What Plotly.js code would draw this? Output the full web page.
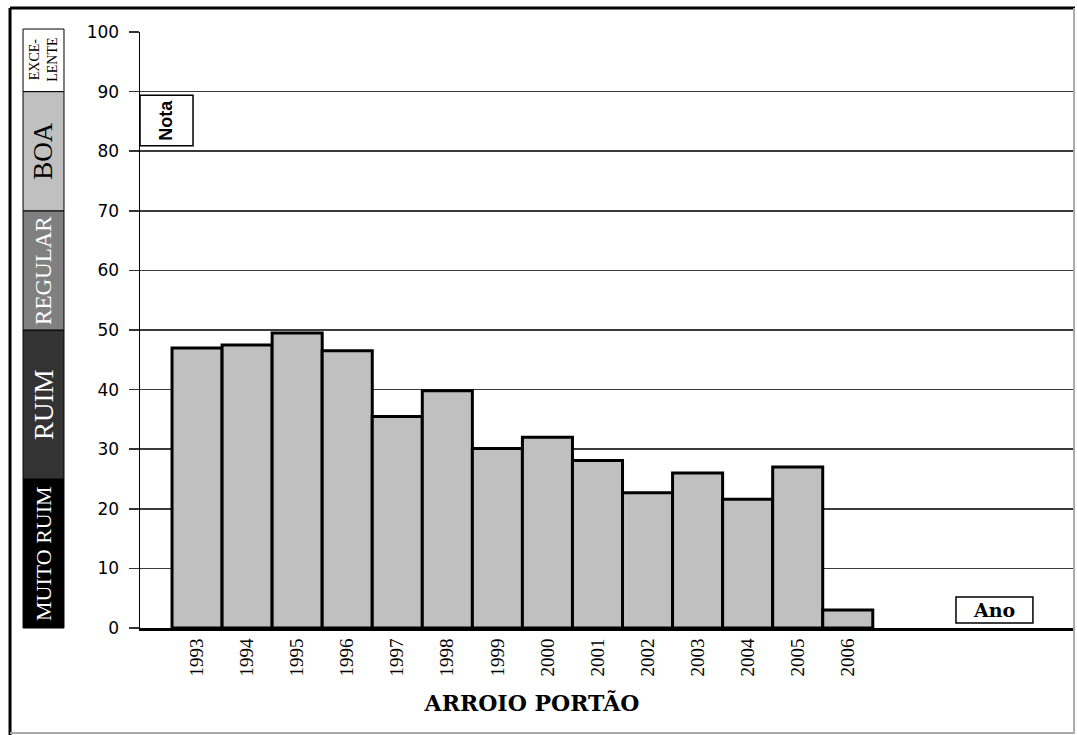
<!DOCTYPE html>
<html>
<head>
<meta charset="utf-8">
<script src="https://cdn.plot.ly/plotly-3.0.1.min.js"></script>
<style>
  html, body { margin: 0; padding: 0; background: #ffffff; }
  #chart { width: 1077px; height: 735px; }
</style>
</head>
<body>
<div id="chart"></div>
<script>
// Water quality index (IQA) per year, Arroio Portão
const years = ['1993', '1994', '1995', '1996', '1997', '1998', '1999',
               '2000', '2001', '2002', '2003', '2004', '2005', '2006'];
const notas = [47, 47.5, 49.5, 46.5, 35.5, 39.8, 30.1,
               32, 28.1, 22.7, 26, 21.6, 27, 3];

// Quality classes shown in the left-hand scale
const classLimits = [0, 25, 50, 70, 90, 100];
const classLabels = ['MUITO RUIM', 'RUIM', 'REGULAR', 'BOA', 'EXCE-<br>LENTE'];
const classFills = ['#000000', '#333333', '#808080', '#c0c0c0', '#ffffff'];
const classText = ['#ffffff', '#ffffff', '#ffffff', '#000000', '#000000'];
const classSizes = [22, 27, 23, 27, 14];

const yTicks = [0, 10, 20, 30, 40, 50, 60, 70, 80, 90, 100];

const trace = {
  type: 'bar',
  x: years,
  y: notas,
  marker: { color: '#c0c0c0', line: { color: '#000000', width: 3 } },
  hoverinfo: 'x+y'
};

const shapes = [];
const annotations = [];

// Class scale on the left
const bandX0 = -0.1251, bandX1 = -0.0813;
for (let i = 0; i < classLabels.length; i++) {
  const lo = classLimits[i] / 100;
  const hi = (i === classLabels.length - 1 ? 100.5 : classLimits[i + 1]) / 100;
  shapes.push({
    type: 'rect', xref: 'paper', yref: 'paper',
    x0: bandX0, x1: bandX1, y0: lo, y1: hi,
    fillcolor: classFills[i],
    line: { color: '#000000', width: 1 },
    layer: 'above'
  });
  annotations.push({
    xref: 'paper', yref: 'paper',
    x: (bandX0 + bandX1) / 2, y: (lo + hi) / 2,
    text: classLabels[i], textangle: -90, showarrow: false,
    xanchor: 'center', yanchor: 'middle',
    font: { family: 'Liberation Serif, Times New Roman, serif', size: classSizes[i], color: classText[i] }
  });
}

// Outer frame
shapes.push(
  { type: 'line', xref: 'paper', yref: 'paper', x0: -0.139, x1: 1.0, y0: 1.0403, y1: 1.0403,
    line: { color: '#000000', width: 3 } },
  { type: 'line', xref: 'paper', yref: 'paper', x0: -0.139, x1: -0.139, y0: 1.0403, y1: -0.18,
    line: { color: '#000000', width: 3 } },
  { type: 'line', xref: 'paper', yref: 'paper', x0: -0.139, x1: 1.0, y0: -0.176, y1: -0.176,
    line: { color: '#aaaaaa', width: 2 } },
  { type: 'line', xref: 'paper', yref: 'paper', x0: 0.999, x1: 0.999, y0: 1.0403, y1: -0.176,
    line: { color: '#aaaaaa', width: 2 } }
);

// "Nota" and "Ano" label boxes
shapes.push(
  { type: 'rect', xref: 'paper', yref: 'paper', x0: 0.0, x1: 0.0567, y0: 0.809, y1: 0.894,
    fillcolor: '#ffffff', line: { color: '#000000', width: 1.5 }, layer: 'above' },
  { type: 'rect', xref: 'paper', yref: 'paper', x0: 0.8727, x1: 0.955, y0: 0.0084, y1: 0.052,
    fillcolor: '#ffffff', line: { color: '#000000', width: 1.5 }, layer: 'above' }
);
annotations.push(
  { xref: 'paper', yref: 'paper', x: 0.027, y: 0.8515, text: '<b>Nota</b>', textangle: -90,
    showarrow: false, xanchor: 'center', yanchor: 'middle',
    font: { family: 'Liberation Sans, Arial, sans-serif', size: 18, color: '#000000' } },
  { xref: 'paper', yref: 'paper', x: 0.9138, y: 0.031, text: '<b>Ano</b>',
    showarrow: false, xanchor: 'center', yanchor: 'middle',
    font: { family: 'DejaVu Serif, serif', size: 19, color: '#000000' } }
);

const layout = {
  width: 1077,
  height: 735,
  margin: { l: 140, r: 2, t: 32, b: 107 },
  paper_bgcolor: '#ffffff',
  plot_bgcolor: '#ffffff',
  showlegend: false,
  bargap: 0,
  title: {
    text: '<b>ARROIO PORTÃO</b>',
    xref: 'container', yref: 'container',
    x: 0.494, y: 0.0435, xanchor: 'center', yanchor: 'middle',
    font: { family: 'DejaVu Serif, serif', size: 22, color: '#000000' }
  },
  xaxis: {
    type: 'category',
    range: [-1.14, 17.54],
    tickangle: -90,
    ticks: '',
    showgrid: false,
    showline: true,
    linecolor: '#000000',
    linewidth: 3,
    zeroline: false,
    ticklabelstandoff: 0,
    tickfont: { family: 'Liberation Serif, Times New Roman, serif', size: 19, color: '#000000' }
  },
  yaxis: {
    range: [0, 100],
    tickvals: yTicks,
    ticks: 'outside',
    ticklen: 10,
    tickwidth: 1.5,
    tickcolor: '#333333',
    showgrid: true,
    gridcolor: '#3a3a3a',
    gridwidth: 1.5,
    showline: true,
    linecolor: '#000000',
    linewidth: 1.5,
    zeroline: false,
    ticklabelstandoff: 6,
    tickfont: { family: 'DejaVu Sans, Verdana, sans-serif', size: 17, color: '#000000' }
  },
  shapes: shapes,
  annotations: annotations
};

Plotly.newPlot('chart', [trace], layout, { displayModeBar: false, staticPlot: true });
</script>
</body>
</html>
